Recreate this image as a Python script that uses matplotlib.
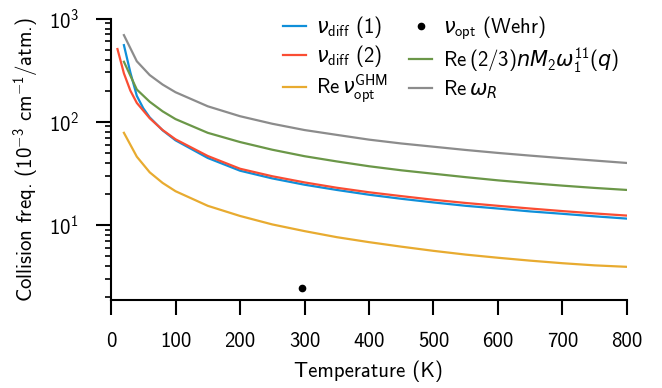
import matplotlib
matplotlib.use('Agg')
import matplotlib.pyplot as plt

plt.rcParams['font.family'] = ['cmss10', 'DejaVu Sans']
plt.rcParams['mathtext.fontset'] = 'custom'
plt.rcParams['mathtext.rm'] = 'cmss10'
plt.rcParams['mathtext.sf'] = 'cmss10'
plt.rcParams['mathtext.bf'] = 'cmss10'
plt.rcParams['mathtext.it'] = 'DejaVu Sans:italic'
plt.rcParams['mathtext.fallback'] = 'cm'
plt.rcParams['axes.unicode_minus'] = False

# ---- data ----
T_common = [20, 40, 60, 80, 100, 150, 200, 250, 300, 350, 400, 450, 500,
            550, 600, 650, 700, 750, 800]
T_blue = [20, 30, 40, 50, 60, 80, 100, 150, 200, 250, 300, 350, 400, 450,
          500, 550, 600, 650, 700, 750, 800]
T_red = [10, 20, 30, 40, 60, 80, 100, 150, 200, 250, 300, 350, 400, 450,
         500, 550, 600, 650, 700, 750, 800]

nu_diff_1 = [552, 300, 178, 135, 110, 82.5, 66, 44.5, 33.5, 28.2, 24.5, 21.8,
             19.6, 17.9, 16.5, 15.3, 14.4, 13.5, 12.8, 12.1, 11.5]
nu_diff_2 = [506, 294, 200, 152, 108, 83, 67.5, 46.5, 35, 29.6, 25.8, 22.9,
             20.7, 19.0, 17.5, 16.3, 15.3, 14.4, 13.6, 12.9, 12.3]
re_nu_ghm = [78, 45.8, 32.3, 25.5, 21.2, 15.3, 12.2, 10.1, 8.7, 7.6, 6.8,
             6.15, 5.6, 5.15, 4.8, 4.5, 4.25, 4.05, 3.92]
re_omega11 = [381, 205, 156, 126, 106, 78, 63.5, 53.5, 46.3, 41.2, 37, 33.8,
              31.3, 29, 27, 25.4, 24, 22.8, 21.8]
re_omegaR = [690, 385, 283, 229, 193, 141, 113, 95.5, 83, 74.5, 67, 61.5,
             57.2, 53.2, 49.8, 46.9, 44.3, 42, 39.8]
T_wehr = [296]
nu_wehr = [2.44]

x_ticks = [0, 100, 200, 300, 400, 500, 600, 700, 800]

c_blue = '#0f8fd9'
c_red = '#fa4d33'
c_yellow = '#e8ab30'
c_green = '#6b9748'
c_gray = '#8c8c8c'

FS = 15

fig = plt.figure(figsize=(6.62, 3.88), dpi=100)
ax = fig.add_axes([0.1677, 0.2268, 0.7794, 0.7255])

lw = 1.6
l1, = ax.plot(T_blue, nu_diff_1, color=c_blue, lw=lw, label=r'$\nu_{\mathrm{diff}}$ (1)')
l2, = ax.plot(T_red, nu_diff_2, color=c_red, lw=lw, label=r'$\nu_{\mathrm{diff}}$ (2)')
l3, = ax.plot(T_common, re_nu_ghm, color=c_yellow, lw=lw,
              label=r'$\mathrm{Re}\,\nu_{\mathrm{opt}}^{\mathrm{GHM}}$')
l4, = ax.plot(T_wehr, nu_wehr, 'o', color='black', ms=4.5, ls='none',
              label=r'$\nu_{\mathrm{opt}}$ (Wehr)')
l5, = ax.plot(T_common, re_omega11, color=c_green, lw=lw,
              label=r'$\mathrm{Re}\,(2/3)nM_2\omega_1^{11}(q)$')
l6, = ax.plot(T_common, re_omegaR, color=c_gray, lw=lw,
              label=r'$\mathrm{Re}\,\omega_R$')

ax.set_yscale('log')
ax.set_xlim(0, 800)
ax.set_ylim(1.87, 1000)
ax.set_xticks(x_ticks)
ax.set_xticklabels([str(v) for v in x_ticks])

for s in ['top', 'right']:
    ax.spines[s].set_visible(False)
for s in ['left', 'bottom']:
    ax.spines[s].set_linewidth(1.5)

ax.tick_params(which='major', direction='out', length=11, width=1.5, pad=12,
               labelsize=FS)
ax.tick_params(which='minor', direction='out', length=4, width=1.2)

ax.set_xlabel('Temperature (K)', fontsize=FS, labelpad=7)
ax.set_ylabel(r'Collision freq. ($10^{-3}$ cm$^{-1}$/atm.)', fontsize=FS,
              labelpad=6)

ax.legend(handles=[l1, l2, l3, l4, l5, l6], ncol=2, loc='upper right',
          frameon=False, fontsize=FS, handlelength=1.1, handletextpad=0.5,
          columnspacing=1.0, labelspacing=0.15, borderaxespad=0.0,
          bbox_to_anchor=(1.0, 1.045))

fig.savefig('out.png', dpi=100)
